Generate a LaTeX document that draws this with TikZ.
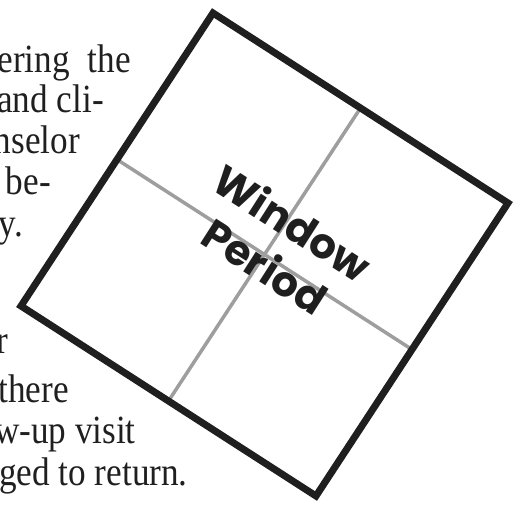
\documentclass[tikz,border=0pt]{standalone}
\usepackage{fontspec}
\setmainfont{Liberation Serif}[FakeStretch=0.88]
\newfontfamily\gothic{Poppins}
\usetikzlibrary{calc}

\begin{document}
\begin{tikzpicture}[x=1pt, y=-1pt, line join=miter,
  wraptext/.style={anchor=base east, inner sep=0pt, text=black!88, font=\fontsize{40}{41}\selectfont},
  pane/.style={line width=3.5pt, draw=black!38},
  frame/.style={line width=7pt, draw=black!88}]

  %% ════ 画布（左侧正文被裁掉，照原样裁）════
  \clip (0,0) rectangle (525,509);

  %% ════ 左侧正文：每行按右端对齐 ════
  \node[wraptext] (l1) at (131,72)  {ering\hspace{0.45em}the};
  \node[wraptext] (l2) at (104,112) {and cli-};
  \node[wraptext] (l3) at (80,153)  {nselor};
  \node[wraptext] (l4) at (51,194)  {be-};
  \node[wraptext] (l5) at (23,236)  {y.};
  \node[wraptext] (l6) at (8,353)   {r};
  \node[wraptext] (l7) at (69,402)  {there};
  \node[wraptext] (l8) at (136,443) {w-up visit};
  \node[wraptext] (l9) at (188,485) {ged to return.};

  %% ════ 窗框四角（斜放约 33°）════
  \coordinate (T) at (213,13);
  \coordinate (R) at (508,203);
  \coordinate (B) at (316,496);
  \coordinate (L) at (21,306);

  %% 四边中点
  \coordinate (mTL) at ($(T)!0.5!(L)$);
  \coordinate (mRB) at ($(R)!0.5!(B)$);
  \coordinate (mTR) at ($(T)!0.5!(R)$);
  \coordinate (mLB) at ($(L)!0.5!(B)$);

  %% ════ 十字窗格（灰）════
  \draw[pane] (mTL) -- (mRB);
  \draw[pane] (mTR) -- (mLB);

  %% ════ 外框 ════
  \draw[frame] (T) -- (R) -- (B) -- (L) -- cycle;

  %% ════ 标题 ════
  \node[rotate=-32.6, align=center, inner sep=0pt, text=black!88,
        font=\gothic\bfseries\fontsize{42}{52}\selectfont] (title) at (279,244) {Window\\Period};
\end{tikzpicture}
\end{document}
